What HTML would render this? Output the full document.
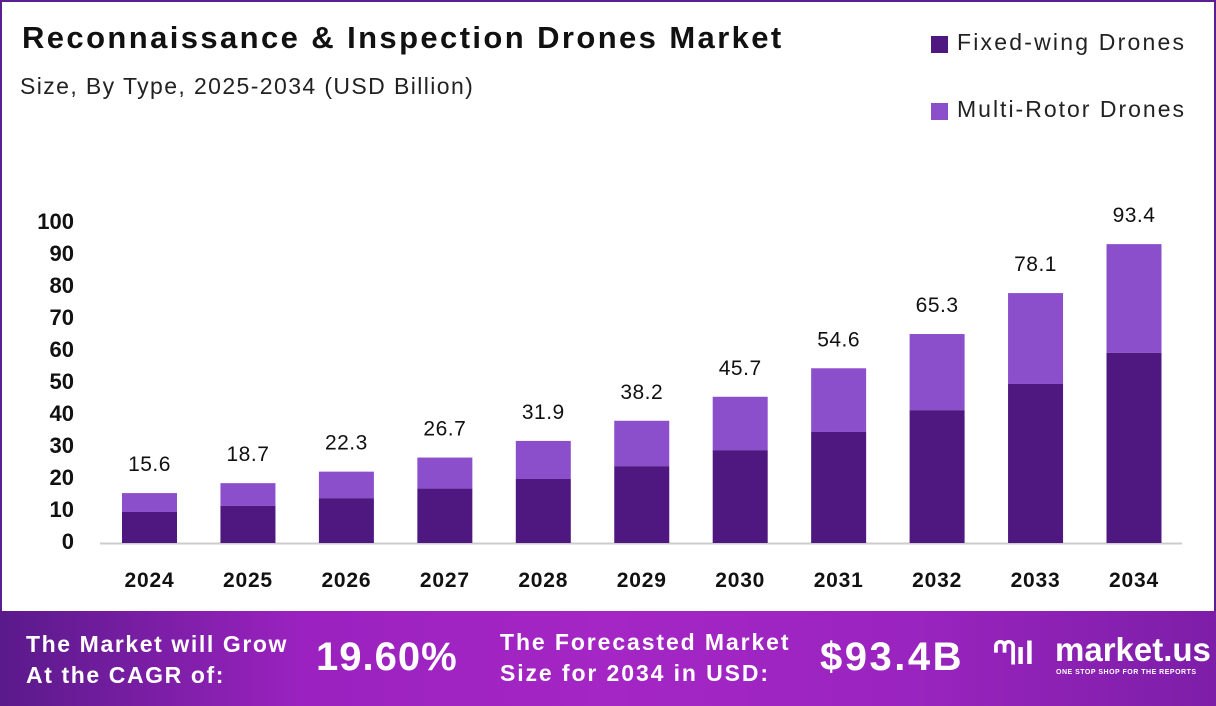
<!DOCTYPE html>
<html><head><meta charset="utf-8"><style>
body{margin:0;width:1216px;height:706px;overflow:hidden;font-family:"Liberation Sans",sans-serif;background:#fff;position:relative}
.frame{position:absolute;left:0;top:0;width:1212px;height:611px;border:2px solid #5b1f8f;border-bottom:none;background:#fff}
.t{position:absolute;white-space:nowrap}
.foot{position:absolute;left:0;top:611px;width:1216px;height:95px;background:linear-gradient(90deg,#5a1a8a 0%,#9b22c0 25%,#a426c4 50%,#9a24bf 75%,#7d1ea8 100%)}
.fw{color:#fff;font-weight:bold;position:absolute;white-space:nowrap}
</style></head><body>
<div class="frame"></div>
<div class="t" style="left:22px;top:20px;font-size:31px;font-weight:bold;color:#111;letter-spacing:2.4px">Reconnaissance &amp; Inspection Drones Market</div>
<div class="t" style="left:20px;top:73px;font-size:23px;color:#222;letter-spacing:1.4px">Size, By Type, 2025-2034 (USD Billion)</div>
<div style="position:absolute;left:931px;top:36px;width:17px;height:17px;background:#4f1780"></div>
<div class="t" style="left:957px;top:29px;font-size:23px;color:#222;letter-spacing:2.2px">Fixed-wing Drones</div>
<div style="position:absolute;left:931px;top:103px;width:17px;height:17px;background:#8b4fcc"></div>
<div class="t" style="left:957px;top:96px;font-size:23px;color:#222;letter-spacing:2px">Multi-Rotor Drones</div>
<svg width="1216" height="611" style="position:absolute;left:0;top:0" font-family="Liberation Sans, sans-serif">
<g font-size="22" font-weight="bold" fill="#111" text-anchor="end">
<text x="74" y="549">0</text><text x="74" y="517">10</text><text x="74" y="485">20</text><text x="74" y="453">30</text><text x="74" y="421">40</text><text x="74" y="389">50</text><text x="74" y="357">60</text><text x="74" y="325">70</text><text x="74" y="293">80</text><text x="74" y="261">90</text><text x="74" y="229">100</text>
</g>
<line x1="100" y1="543.5" x2="1182" y2="543.5" stroke="#ccc" stroke-width="2"/>
<g id="bars"></g>
</svg>
<script>
var d=[[2024,15.6,9.7],[2025,18.7,11.6],[2026,22.3,14],[2027,26.7,17],[2028,31.9,20],[2029,38.2,24],[2030,45.7,29],[2031,54.6,34.7],[2032,65.3,41.5],[2033,78.1,49.7],[2034,93.4,59.4]];
var s='';d.forEach(function(r,i){var cx=149.5+i*98.45,x=cx-27.5,tt=543-r[1]*3.2,ft=543-r[2]*3.2;
s+='<rect x="'+x+'" y="'+tt+'" width="55" height="'+(ft-tt)+'" fill="#8b4fcc"/><rect x="'+x+'" y="'+ft+'" width="55" height="'+(543-ft)+'" fill="#4f1780"/>';
s+='<text x="'+cx+'" y="'+(tt-22)+'" font-size="21" fill="#111" text-anchor="middle" letter-spacing="0.5">'+r[1].toFixed(1)+'</text>';
s+='<text x="'+cx+'" y="587" font-size="21" font-weight="bold" fill="#111" text-anchor="middle" letter-spacing="0.8">'+r[0]+'</text>';});
document.getElementById('bars').innerHTML=s;
</script>
<div class="foot">
<div class="fw" style="left:26px;top:18px;font-size:23px;line-height:31px;letter-spacing:1.6px">The Market will Grow<br>At the CAGR of:</div>
<div class="fw" style="left:316px;top:24px;font-size:40px;letter-spacing:1px">19.60%</div>
<div class="fw" style="left:500px;top:16px;font-size:23px;line-height:31px;letter-spacing:1.9px">The Forecasted Market<br>Size for 2034 in USD:</div>
<div class="fw" style="left:820px;top:24px;font-size:40px;letter-spacing:2.5px">$93.4B</div>
<div class="fw" style="left:993px;top:24px;font-size:32px">ᘉıl</div>
<div class="fw" style="left:1055px;top:20px;font-size:33px">market.us</div>
<div class="fw" style="left:1056px;top:58px;font-size:7px;letter-spacing:0.5px">ONE STOP SHOP FOR THE REPORTS</div>
</div>
</body></html>
